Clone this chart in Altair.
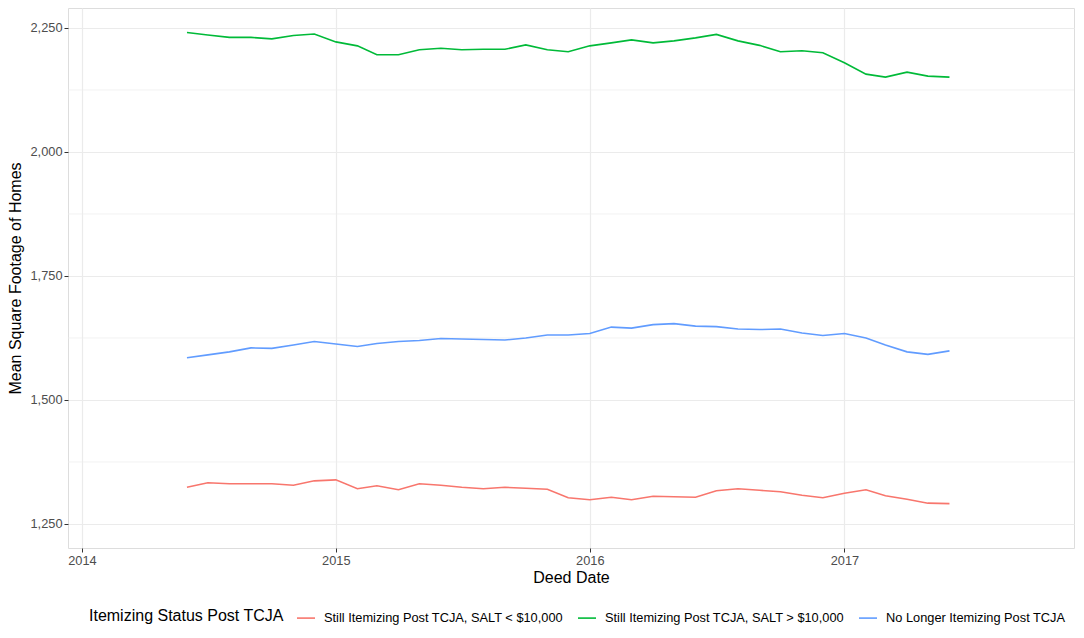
import altair as alt
import pandas as pd

months = [
    "2014-06-01", "2014-07-01", "2014-08-01", "2014-09-01", "2014-10-01", "2014-11-01", "2014-12-01",
    "2015-01-01", "2015-02-01", "2015-03-01", "2015-04-01", "2015-05-01", "2015-06-01", "2015-07-01",
    "2015-08-01", "2015-09-01", "2015-10-01", "2015-11-01", "2015-12-01", "2016-01-01", "2016-02-01",
    "2016-03-01", "2016-04-01", "2016-05-01", "2016-06-01", "2016-07-01", "2016-08-01", "2016-09-01",
    "2016-10-01", "2016-11-01", "2016-12-01", "2017-01-01", "2017-02-01", "2017-03-01", "2017-04-01",
    "2017-05-01", "2017-06-01",
]

series_names = [
    "Still Itemizing Post TCJA, SALT < $10,000",
    "Still Itemizing Post TCJA, SALT > $10,000",
    "No Longer Itemizing Post TCJA",
]
series_colors = ["#F8766D", "#00BA38", "#619CFF"]

salt_below = [1324, 1333, 1331, 1331, 1331, 1328, 1337, 1339, 1321, 1327, 1319, 1331, 1328, 1324,
              1321, 1324, 1322, 1320, 1303, 1299, 1304, 1299, 1306, 1305, 1304, 1317, 1321, 1318,
              1315, 1308, 1303, 1312, 1319, 1307, 1300, 1292, 1291]
salt_above = [2241, 2236, 2231, 2231, 2228, 2235, 2238, 2222, 2214, 2196, 2196, 2206, 2209, 2206,
              2207, 2207, 2216, 2206, 2202, 2214, 2220, 2226, 2220, 2224, 2230, 2237, 2224, 2215,
              2202, 2204, 2200, 2180, 2157, 2151, 2161, 2153, 2151]
no_longer = [1585, 1591, 1597, 1605, 1604, 1611, 1618, 1613, 1608, 1614, 1618, 1620, 1624, 1623,
             1622, 1621, 1625, 1631, 1631, 1634, 1647, 1645, 1652, 1654, 1649, 1648, 1643, 1642,
             1643, 1635, 1630, 1634, 1625, 1611, 1597, 1592, 1599]

y_major = [1250, 1500, 1750, 2000, 2250]
y_minor = [1375, 1625, 1875, 2125]
x_years = [2014, 2015, 2016, 2017]

rows = []
for name, vals in zip(series_names, [salt_below, salt_above, no_longer]):
    for m, v in zip(months, vals):
        rows.append({"date": m, "value": v, "status": name})
df = pd.DataFrame(rows)
minor_df = pd.DataFrame({"v": y_minor})

FONT = "Liberation Sans"

x_scale = alt.Scale(
    type="utc",
    domain=[alt.DateTime(year=2013, month=12, date=12, utc=True),
            alt.DateTime(year=2017, month=11, date=27, utc=True)],
)
y_scale = alt.Scale(domain=[1201.6, 2290.3], nice=False, zero=False)

y_axis = alt.Axis(
    values=y_major,
    format=",.0f",
    grid=True,
    gridColor="#EBEBEB",
    gridWidth=1.2,
    domain=False,
    ticks=True,
    tickColor="#333333",
    tickSize=4,
    tickWidth=1,
    labelFont=FONT,
    labelFontSize=12.8,
    labelColor="#4D4D4D",
    labelPadding=2,
    titleFont=FONT,
    titleFontSize=16,
    titleFontWeight="normal",
    titleColor="#000000",
    titlePadding=6,
)
y_title = "Mean Square Footage of Homes"

minor = alt.Chart(minor_df).mark_rule(color="#EBEBEB", strokeWidth=0.7).encode(
    y=alt.Y("v:Q", scale=y_scale, axis=y_axis, title=y_title)
)

lines = alt.Chart(df).mark_line(strokeWidth=1.6).encode(
    x=alt.X(
        "date:T",
        scale=x_scale,
        title="Deed Date",
        axis=alt.Axis(
            values=[alt.DateTime(year=y, month=1, date=1, utc=True) for y in x_years],
            format="%Y",
            grid=True,
            gridColor="#EBEBEB",
            gridWidth=1.2,
            domain=False,
            ticks=True,
            tickColor="#333333",
            tickSize=4,
            tickWidth=1,
            labelFont=FONT,
            labelFontSize=12.8,
            labelColor="#4D4D4D",
            labelPadding=2,
            titleFont=FONT,
            titleFontSize=16,
            titleFontWeight="normal",
            titleColor="#000000",
            titlePadding=3,
        ),
    ),
    y=alt.Y("value:Q", scale=y_scale, axis=y_axis, title=y_title),
    color=alt.Color(
        "status:N",
        scale=alt.Scale(domain=series_names, range=series_colors),
        sort=series_names,
        title="Itemizing Status Post TCJA",
        legend=alt.Legend(
            orient="none",
            legendX=21,
            legendY=600,
            direction="horizontal",
            titleOrient="left",
            titleFont=FONT,
            titleFontSize=16,
            titleFontWeight="normal",
            titleColor="#000000",
            titlePadding=12,
            titleLimit=400,
            labelFont=FONT,
            labelFontSize=12.8,
            labelColor="#000000",
            labelLimit=400,
            labelOffset=8,
            symbolType="stroke",
            symbolSize=324,
            symbolStrokeWidth=1.6,
            columnPadding=10,
        ),
    ),
)

chart = alt.layer(minor, lines).properties(
    width=1006,
    height=540,
    autosize=alt.AutoSizeParams(type="none"),
    padding={"left": 60, "top": 0, "right": 2, "bottom": 78},
).configure_view(
    stroke="#333333",
    strokeWidth=1.1,
).configure(background="white")

chart.save("out.html", embed_options={"renderer": "svg", "actions": False})
